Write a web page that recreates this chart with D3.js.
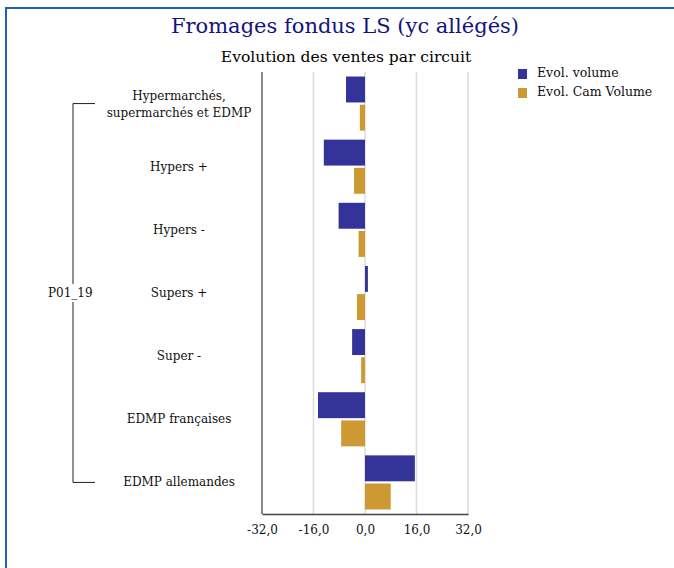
<!DOCTYPE html>
<html>
<head>
<meta charset="utf-8">
<script src="https://cdn.jsdelivr.net/npm/d3@7"></script>
<style>
  html, body { margin: 0; padding: 0; background: #fff; }
  svg { display: block; }
  text { font-family: "DejaVu Serif", serif; }
</style>
</head>
<body>
<svg id="chart" width="674" height="568"></svg>
<script>
// Sales evolution by distribution channel
const categories = [
  ["Hypermarchés,", "supermarchés et EDMP"],
  ["Hypers +"],
  ["Hypers -"],
  ["Supers +"],
  ["Super -"],
  ["EDMP françaises"],
  ["EDMP allemandes"]
];
const seriesNames = ["Evol. volume", "Evol. Cam Volume"];
const evolVolume = [-5.9, -12.8, -8.2, 0.9, -4.0, -14.6, 15.5];
const evolCamVolume = [-1.6, -3.4, -2.0, -2.5, -1.2, -7.4, 8.0];
const tickValues = [-32, -16, 0, 16, 32];
const groupLabel = "P01_19";
const colors = ["#333399", "#cc9933"];

const svg = d3.select("#chart");

// outer frame
svg.append("rect")
  .attr("x", 6).attr("y", 8)
  .attr("width", 700).attr("height", 600)
  .attr("fill", "none")
  .attr("stroke", "#1a62b8")
  .attr("stroke-width", 2);

// titles
svg.append("text")
  .attr("x", 345).attr("y", 33)
  .attr("text-anchor", "middle")
  .attr("fill", "#131380")
  .style("font-size", "21px")
  .text("Fromages fondus LS (yc allégés)");
svg.append("text")
  .attr("x", 346).attr("y", 62)
  .attr("text-anchor", "middle")
  .attr("fill", "#000")
  .style("font-size", "15.5px")
  .text("Evolution des ventes par circuit");

const plot = { left: 262, right: 468, top: 72, bottom: 514 };

const x = d3.scaleLinear().domain([-32, 32]).range([plot.left, plot.right]);
const y = d3.scaleBand().domain(d3.range(categories.length))
  .range([plot.top, plot.bottom]).paddingInner(0).paddingOuter(0);
const ySub = d3.scaleBand().domain(d3.range(seriesNames.length))
  .range([0, y.bandwidth()]).paddingInner(0.08).paddingOuter(0.16);

// gridlines
svg.append("g").selectAll("line")
  .data(tickValues.filter(v => v !== -32))
  .join("line")
  .attr("x1", d => x(d)).attr("x2", d => x(d))
  .attr("y1", plot.top).attr("y2", plot.bottom)
  .attr("stroke", "#dcdcdc")
  .attr("stroke-width", 1.5);

// bars
const seriesData = [evolVolume, evolCamVolume];
seriesData.forEach((vals, si) => {
  svg.append("g").selectAll("rect")
    .data(vals)
    .join("rect")
    .attr("x", d => x(Math.min(0, d)))
    .attr("width", d => Math.abs(x(d) - x(0)))
    .attr("y", (d, i) => y(i) + ySub(si))
    .attr("height", ySub.bandwidth())
    .attr("fill", colors[si]);
});

// x axis
const xAxis = d3.axisBottom(x)
  .tickValues(tickValues)
  .tickSize(0)
  .tickPadding(11)
  .tickFormat(d => d3.format(".1f")(d).replace(".", ",").replace("−", "-"));
const gx = svg.append("g")
  .attr("transform", `translate(0,${plot.bottom})`)
  .call(xAxis);
gx.select(".domain").attr("stroke", "#444").attr("stroke-width", 1.5);
gx.selectAll("text")
  .attr("fill", "#111")
  .style("font-family", "DejaVu Serif, serif")
  .style("font-size", "12px");

// y axis line
svg.append("line")
  .attr("x1", plot.left).attr("x2", plot.left)
  .attr("y1", plot.top).attr("y2", plot.bottom)
  .attr("stroke", "#111").attr("stroke-width", 1);

// category labels
const labels = svg.append("g").selectAll("text")
  .data(categories)
  .join("text")
  .attr("text-anchor", "middle")
  .attr("fill", "#111")
  .style("font-size", "12px")
  .attr("x", 179)
  .attr("y", (d, i) => y(i) + y.bandwidth() / 2 + 4 - (d.length - 1) * 8);
labels.selectAll("tspan")
  .data(d => d)
  .join("tspan")
  .attr("x", 179)
  .attr("dy", (d, i) => i === 0 ? 0 : 17)
  .text(d => d);

// group bracket
const yTop = y(0) + y.bandwidth() / 2;
const yBot = y(categories.length - 1) + y.bandwidth() / 2;
svg.append("path")
  .attr("d", `M95,${yTop} H73 V${yBot} H95`)
  .attr("fill", "none")
  .attr("stroke", "#222")
  .attr("stroke-width", 1);
svg.append("rect")
  .attr("x", 46).attr("y", (yTop + yBot) / 2 - 9)
  .attr("width", 54).attr("height", 18)
  .attr("fill", "#fff");
svg.append("text")
  .attr("x", 48).attr("y", (yTop + yBot) / 2 + 4)
  .attr("fill", "#111")
  .style("font-size", "12px")
  .text(groupLabel);

// legend
const legend = svg.append("g").attr("transform", "translate(518,69)");
seriesNames.forEach((name, i) => {
  legend.append("rect")
    .attr("x", 0).attr("y", i * 19)
    .attr("width", 9).attr("height", 10)
    .attr("fill", colors[i]);
  legend.append("text")
    .attr("x", 19).attr("y", i * 19 + 8)
    .attr("fill", "#111")
    .style("font-size", "12.5px")
    .text(name);
});
</script>
</body>
</html>
